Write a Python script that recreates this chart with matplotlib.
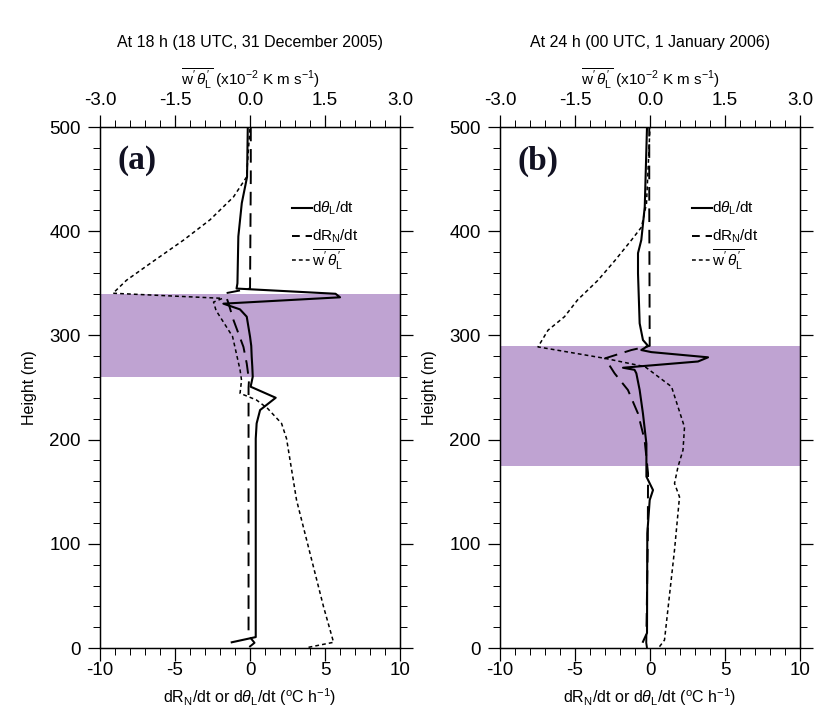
import numpy as np
import matplotlib
matplotlib.use("Agg")
import matplotlib.pyplot as plt
from matplotlib.ticker import MultipleLocator

plt.rcParams['font.family'] = ['Liberation Sans', 'DejaVu Sans']
plt.rcParams['mathtext.fontset'] = 'custom'
plt.rcParams['mathtext.rm'] = 'Liberation Sans'
plt.rcParams['mathtext.it'] = 'Liberation Sans:italic'
plt.rcParams['axes.unicode_minus'] = False

# ── Datos ─────────────────────────────────────────────────
# (a) 18 h
sol_a_h = [5.5, 10.5, 201, 215.6, 228.4, 240.2, 250.8, 260.4, 270, 279.6, 290, 298.8,
           318, 325, 330.5, 336.6, 340, 345, 350, 395, 427, 452, 500]
sol_a_v = [-1.22, 0.38, 0.38, 0.44, 0.67, 1.71, 0.04, 0.18, 0.15, 0.11, 0.08, 0.0,
           -0.22, -0.67, -1.78, 6.0, 5.7, -0.9, -0.84, -0.78, -0.55, -0.2, -0.15]

das_a_h = [1, 5, 12, 250, 257, 273, 289, 315, 331, 340.4, 345, 452, 500]
das_a_v = [-0.05, 0.3, -0.1, -0.1, -0.07, -0.22, -0.44, -1.11, -1.44, -1.67, 0.0, 0.05, 0.05]

dot_a_h = [0.7, 5.5, 39.6, 142, 201, 215.6, 230, 238, 244.5, 257, 267, 299, 324, 332,
           335.6, 340.5, 353, 369, 391.5, 411, 433, 452, 500]
dot_a_v = [1.17, 1.67, 1.47, 0.93, 0.73, 0.63, 0.35, 0.13, -0.2, -0.17, -0.2, -0.35, -0.68,
           -0.73, -0.55, -2.74, -2.47, -2.0, -1.33, -0.8, -0.33, -0.07, 0.0]

capa_a = (260, 340)

# (b) 24 h
sol_b_h = [6, 14.4, 110, 142, 151.6, 164.5, 196, 225, 247.6, 263.6, 267, 269, 275, 279,
           284, 286, 290, 295.6, 311.6, 359.6, 379, 391.6, 423.5, 500]
sol_b_v = [-0.47, -0.2, -0.18, -0.02, 0.2, -0.24, -0.24, -0.47, -0.69, -0.91, -1.03, -1.8,
           3.2, 3.87, 0.09, -0.58, -0.13, -0.47, -0.69, -0.8, -0.8, -0.58, -0.35, -0.2]

das_b_h = [0, 5, 100, 167.6, 199.6, 225, 247.6, 263.6, 278, 286, 290, 423.5, 500]
das_b_v = [-0.2, -0.25, -0.15, -0.13, -0.36, -0.8, -1.47, -2.36, -3.0, -1.24, -0.02, -0.05, -0.05]

dot_b_h = [1.3, 7.7, 94, 145, 158, 174, 190, 212, 250.8, 270, 278, 289, 305, 318, 334,
           353, 372, 391.6, 404, 426.8, 500]
dot_b_v = [0.19, 0.29, 0.49, 0.59, 0.49, 0.56, 0.66, 0.69, 0.43, -0.1, -0.9, -2.24, -2.04,
           -1.71, -1.45, -1.04, -0.7, -0.37, -0.17, -0.07, 0.0]

capa_b = (175, 290)

titulos = ['At 18 h (18 UTC, 31 December 2005)', 'At 24 h (00 UTC, 1 January 2006)']
etiquetas = ['(a)', '(b)']

# ── Figura ────────────────────────────────────────────────
fig = plt.figure(figsize=(8.35, 7.26), dpi=100)
morado = '#bfa3d2'
flujo = r"$\overline{\mathrm{w}^{\prime}\,\theta_{\mathrm{L}}^{\prime}}$"

paneles = [
    (0.1198, sol_a_h, sol_a_v, das_a_h, das_a_v, dot_a_h, dot_a_v, capa_a),
    (0.5988, sol_b_h, sol_b_v, das_b_h, das_b_v, dot_b_h, dot_b_v, capa_b),
]

for i, (x0, sh, sv, dh, dv, fh, fv, capa) in enumerate(paneles):
    ax = fig.add_axes([x0, 0.1074, 0.3593, 0.7176])
    ax.axhspan(capa[0], capa[1], color=morado, lw=0, zorder=0)
    ax.plot(sv, sh, color='black', lw=1.5, zorder=3)
    ax.plot(dv, dh, color='black', lw=1.4, dashes=(7, 4), zorder=3)
    ax.set_xlim(-10, 10)
    ax.set_ylim(0, 500)
    ax.xaxis.set_major_locator(MultipleLocator(5))
    ax.xaxis.set_minor_locator(MultipleLocator(1))
    ax.yaxis.set_major_locator(MultipleLocator(100))
    ax.yaxis.set_minor_locator(MultipleLocator(20))
    ax.tick_params(which='both', direction='out', labelsize=13.5, right=True)
    ax.tick_params(which='major', length=9, width=0.9)
    ax.tick_params(which='minor', length=5, width=0.7)
    ax.tick_params(axis='x', pad=1)
    ax.tick_params(axis='y', pad=5)
    ax.set_xlabel(r'dR$_\mathrm{N}$/dt or d$\theta_\mathrm{L}$/dt ($^\mathrm{o}$C h$^{-1}$)',
                  fontsize=11.5, labelpad=5)
    ax.set_ylabel('Height (m)', fontsize=11.5, labelpad=9)
    for s in ax.spines.values():
        s.set_linewidth(1.0)

    ax2 = ax.twiny()
    ax2.plot(fv, fh, color='black', lw=1.1, dashes=(2.5, 2), zorder=3)
    ax2.set_xlim(-3, 3)
    ax2.set_xticks([-3, -1.5, 0, 1.5, 3])
    ax2.set_xticklabels(['-3.0', '-1.5', '0.0', '1.5', '3.0'])
    ax2.xaxis.set_minor_locator(MultipleLocator(0.3))
    ax2.tick_params(which='both', direction='out', labelsize=13.5)
    ax2.tick_params(which='major', length=9, width=0.9, pad=4)
    ax2.tick_params(which='minor', length=5, width=0.7)
    ax2.set_xlabel(flujo + r' (x10$^{-2}$ K m s$^{-1}$)', fontsize=11, labelpad=5)
    ax2.set_title(titulos[i], fontsize=11.5, pad=14)

    ax.text(0.058, 0.935, etiquetas[i], transform=ax.transAxes, fontsize=24,
            fontweight='bold', family='Liberation Serif', va='center', color='#111122')

    # leyenda manual
    ley_y = [0.845, 0.79, 0.745]
    estilos = [dict(lw=1.5), dict(lw=1.4, dashes=(4, 3)), dict(lw=1.1, dashes=(2.5, 2))]
    textos = [r'd$\theta_\mathrm{L}$/dt', r'dR$_\mathrm{N}$/dt', flujo]
    for y, est, t in zip(ley_y, estilos, textos):
        ax.plot([0.64, 0.705], [y, y], transform=ax.transAxes, color='black', **est)
        ax.text(0.705, y, t, transform=ax.transAxes, fontsize=11, va='center')

fig.savefig('out.png', dpi=100)
